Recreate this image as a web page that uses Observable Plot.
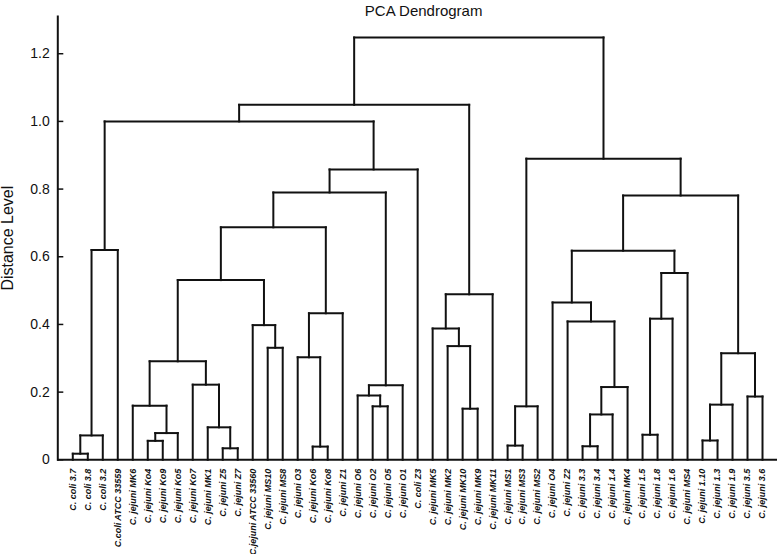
<!DOCTYPE html>
<html><head><meta charset="utf-8">
<script src="https://cdn.jsdelivr.net/npm/d3@7"></script>
<script src="https://cdn.jsdelivr.net/npm/@observablehq/plot@0.6"></script>
<style>body{margin:0;background:#fff;}</style>
</head><body><div id="chart"></div>
<script>
const title = "PCA Dendrogram";
const yLabel = "Distance Level";
const yTicks = [0, 0.2, 0.4, 0.6, 0.8, 1.0, 1.2];

// leaves in left-to-right order
const leaves = [
  "C. coli 3.7", "C. coli 3.8", "C. coli 3.2", "C.coli ATCC 33559",
  "C. jejuni MK6", "C. jejuni Ko4", "C. jejuni Ko9", "C. jejuni Ko5",
  "C. jejuni Ko7", "C. jejuni MK1", "C. jejuni Z5", "C. jejuni Z7",
  "C.jejuni ATCC 33560", "C. jejuni MS10", "C. jejuni MS8", "C. jejuni O3",
  "C. jejuni Ko6", "C. jejuni Ko8", "C. jejuni Z1", "C. jejuni O6",
  "C. jejuni O2", "C. jejuni O5", "C. jejuni O1", "C. coli Z3",
  "C. jejuni MK5", "C. jejuni MK2", "C. jejuni MK10", "C. jejuni MK9",
  "C. jejuni MK11", "C. jejuni MS1", "C. jejuni MS3", "C. jejuni MS2",
  "C. jejuni O4", "C. jejuni Z2", "C. jejuni 3.3", "C. jejuni 3.4",
  "C. jejuni 1.4", "C. jejuni MK4", "C. jejuni 1.5", "C. jejuni 1.8",
  "C. jejuni 1.6", "C. jejuni MS4", "C. jejuni 1.10", "C. jejuni 1.3",
  "C. jejuni 1.9", "C. jejuni 3.5", "C. jejuni 3.6"
];

// merges: [node name, left child, right child, distance]; numbers are leaf indices
const merges = [
  ["A1", 0, 1, 0.018], ["A2", "A1", 2, 0.072], ["A3", "A2", 3, 0.62],
  ["B1", 5, 6, 0.056], ["B2", "B1", 7, 0.079], ["B3", 4, "B2", 0.16],
  ["C1", 10, 11, 0.034], ["C2", 9, "C1", 0.096], ["C3", 8, "C2", 0.222],
  ["D1", "B3", "C3", 0.291],
  ["E1", 13, 14, 0.331], ["E2", 12, "E1", 0.398],
  ["F1", "D1", "E2", 0.531],
  ["G1", 16, 17, 0.039], ["G2", 15, "G1", 0.303], ["G3", "G2", 18, 0.433],
  ["H1", 20, 21, 0.158], ["H2", 19, "H1", 0.19], ["H3", "H2", 22, 0.22],
  ["J1", "F1", "G3", 0.687], ["J2", "J1", "H3", 0.79], ["J3", "J2", 23, 0.858],
  ["K1", "A3", "J3", 1.0],
  ["L1", 26, 27, 0.151], ["L2", 25, "L1", 0.336], ["L3", 24, "L2", 0.388], ["L4", "L3", 28, 0.489],
  ["M1", "K1", "L4", 1.049],
  ["N1", 29, 30, 0.042], ["N2", "N1", 31, 0.158],
  ["Q1", 34, 35, 0.04], ["Q2", "Q1", 36, 0.134], ["Q3", "Q2", 37, 0.215],
  ["Q4", 33, "Q3", 0.409], ["Q5", 32, "Q4", 0.465],
  ["R1", 38, 39, 0.074], ["R2", "R1", 40, 0.417], ["R3", "R2", 41, 0.552],
  ["S1", "Q5", "R3", 0.618],
  ["T1", 42, 43, 0.057], ["T2", "T1", 44, 0.163], ["T3", 45, 46, 0.187], ["T4", "T2", "T3", 0.315],
  ["U1", "S1", "T4", 0.781],
  ["V1", "N2", "U1", 0.89],
  ["W1", "M1", "V1", 1.248]
];

// build dendrogram segments from the tree
const nodes = new Map();
leaves.forEach((l, i) => nodes.set(i, {x: i, h: 0}));
const segs = [];
for (const [name, a, b, h] of merges) {
  const A = nodes.get(a), B = nodes.get(b);
  segs.push({x1: A.x, y1: A.h, x2: A.x, y2: h});
  segs.push({x1: B.x, y1: B.h, x2: B.x, y2: h});
  segs.push({x1: A.x, y1: h, x2: B.x, y2: h});
  nodes.set(name, {x: (A.x + B.x) / 2, h});
}

const plot = Plot.plot({
  width: 777, height: 554,
  marginTop: 16, marginBottom: 94.7, marginLeft: 57.3, marginRight: 0,
  x: {domain: [-1, leaves.length], axis: null},
  y: {domain: [0, 1.31]},
  style: {fontFamily: "'Liberation Sans', Arial, sans-serif", background: "#fff", color: "#111"},
  marks: [
    Plot.axisY(yTicks, {tickSize: 6, dx: 6, tickPadding: 8, fontSize: 14, strokeWidth: 1.5, label: null,
      tickFormat: d => d === 0 ? "0" : d.toFixed(1)}),
    Plot.frame({anchor: "left", strokeWidth: 2, stroke: "#111"}),
    Plot.ruleY([0], {strokeWidth: 2, stroke: "#111"}),
    Plot.link(segs, {x1: "x1", y1: "y1", x2: "x2", y2: "y2", stroke: "#111", strokeWidth: 2, strokeLinecap: "square"}),
    Plot.text(leaves, {x: (d, i) => i, y: () => 0, text: d => d, rotate: -90, textAnchor: "end", lineAnchor: "middle",
      dy: 9, fontSize: 9, fontWeight: "bold", fontStyle: "italic", fill: "#111"}),
    Plot.text([title], {frameAnchor: "top", lineAnchor: "top", dy: -11, dx: 6, fontSize: 15, fill: "#111"}),
    Plot.text([yLabel], {frameAnchor: "left", rotate: -90, dx: -50, fontSize: 16, textAnchor: "middle", lineAnchor: "middle", fill: "#111"})
  ]
});
document.getElementById("chart").appendChild(plot);
</script>
</body></html>
